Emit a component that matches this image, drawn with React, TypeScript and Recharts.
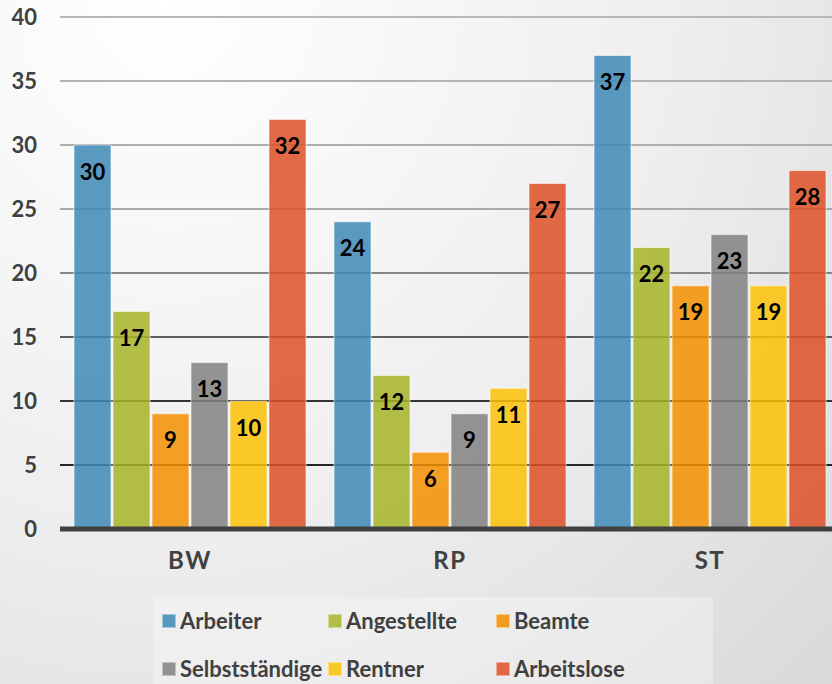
import React from 'react';
import { BarChart, Bar, XAxis, YAxis, CartesianGrid, Legend, LabelList } from 'recharts';

const regions = ['BW', 'RP', 'ST'];
const arbeiter = [30, 24, 37];
const angestellte = [17, 12, 22];
const beamte = [9, 6, 19];
const selbststaendige = [13, 9, 23];
const rentner = [10, 11, 19];
const arbeitslose = [32, 27, 28];
const yTicks = [0, 5, 10, 15, 20, 25, 30, 35, 40];

const FONT = 'Lato, "Open Sans", sans-serif';
const TEXT = '#404040';

// fill is drawn with some transparency so grid lines show through; swatch is the look on the page
const series = [
  { key: 'arbeiter', name: 'Arbeiter', values: arbeiter, fill: '#3e89b6', swatch: '#5898be' },
  { key: 'angestellte', name: 'Angestellte', values: angestellte, fill: '#a6b427', swatch: '#b1bd45' },
  { key: 'beamte', name: 'Beamte', values: beamte, fill: '#f38f00', swatch: '#f29d22' },
  { key: 'selbststaendige', name: 'Selbstständige', values: selbststaendige, fill: '#818181', swatch: '#919191' },
  { key: 'rentner', name: 'Rentner', values: rentner, fill: '#fdc107', swatch: '#fbc82a' },
  { key: 'arbeitslose', name: 'Arbeitslose', values: arbeitslose, fill: '#dd5026', swatch: '#e06844' },
];

const data = regions.map((region, i) => {
  const row: Record<string, string | number> = { region };
  series.forEach(s => {
    row[s.key] = s.values[i];
  });
  return row;
});

const LegendBox = () => (
  <div
    style={{
      width: 560,
      height: 87,
      background: 'rgba(255,255,255,0.3)',
      display: 'grid',
      gridTemplateColumns: '166px 168px 226px',
      gridTemplateRows: '48px 48px',
      paddingLeft: 9,
      boxSizing: 'border-box',
      fontFamily: FONT,
    }}
  >
    {series.map(s => (
      <div key={s.key} style={{ display: 'flex', alignItems: 'center', gap: 4 }}>
        <span
          style={{
            width: 14,
            height: 14,
            flex: 'none',
            background: s.swatch,
            boxShadow: 'inset 0 0 0 1px rgba(255,255,255,0.45)',
            display: 'inline-block',
          }}
        />
        <span style={{ fontSize: 22, fontWeight: 700, color: TEXT, lineHeight: 1, whiteSpace: 'nowrap' }}>
          {s.name}
        </span>
      </div>
    ))}
  </div>
);

export default function App() {
  return (
    <div
      style={{
        position: 'absolute',
        left: 0,
        top: 0,
        width: 832,
        height: 684,
        overflow: 'hidden',
        background: 'radial-gradient(ellipse at 20% 0%, #ffffff 0%, #eeeeee 55%, #d9d9d9 100%)',
      }}
    >
      <BarChart
        width={850}
        height={684}
        data={data}
        margin={{ top: 17, right: 10, left: 0, bottom: 28 }}
        barCategoryGap={14}
        barGap={2}
      >
        <defs>
          <linearGradient id="gridFade" x1="0" y1="17" x2="0" y2="529" gradientUnits="userSpaceOnUse">
            <stop offset="0%" stopColor="#b8b8b8" />
            <stop offset="40%" stopColor="#a8a8a8" />
            <stop offset="62%" stopColor="#606060" />
            <stop offset="78%" stopColor="#2a2a2a" />
            <stop offset="100%" stopColor="#222222" />
          </linearGradient>
        </defs>
        <CartesianGrid vertical={false} stroke="url(#gridFade)" strokeWidth={2} />
        <XAxis
          dataKey="region"
          height={40}
          axisLine={{ stroke: TEXT, strokeWidth: 5 }}
          tickLine={false}
          tickSize={0}
          tickMargin={23}
          tick={{ fill: TEXT, fontSize: 24, fontWeight: 700, fontFamily: FONT, letterSpacing: 1.5 }}
        />
        <YAxis
          width={60}
          domain={[0, 40]}
          ticks={yTicks}
          axisLine={false}
          tickLine={false}
          tickSize={0}
          tickMargin={23}
          tick={{ fill: TEXT, fontSize: 22, fontWeight: 700, fontFamily: FONT }}
        />
        <Legend
          verticalAlign="bottom"
          width={560}
          height={87}
          wrapperStyle={{ left: 153, top: 597, bottom: 'auto', width: 560, height: 87 }}
          content={() => <LegendBox />}
        />
        {series.map(s => (
          <Bar
            key={s.key}
            dataKey={s.key}
            name={s.name}
            fill={s.fill}
            fillOpacity={0.85}
            stroke="#ffffff"
            strokeOpacity={0.6}
            strokeWidth={1}
            isAnimationActive={false}
          >
            <LabelList
              dataKey={s.key}
              position="insideTop"
              offset={19}
              fill="#000000"
              fontSize={22}
              fontWeight={700}
              fontFamily={FONT}
            />
          </Bar>
        ))}
      </BarChart>
    </div>
  );
}
